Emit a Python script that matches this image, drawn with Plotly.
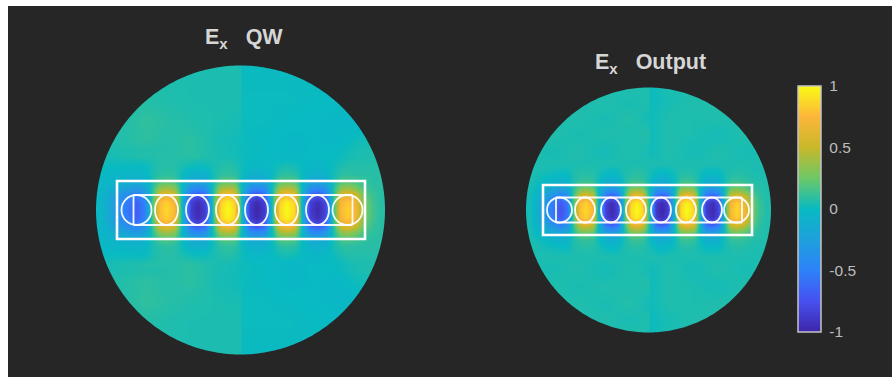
import numpy as np
import plotly.graph_objects as go

W, H = 892, 377

# ---------- field values (offsets from each disk centre, image pixels) ----------
qw_core_x = [-140,-128,-118,-104,-96,-89,-81,-74,-66,-58,-50,-43,-35,-28,-20,-13,-6,1,9,16,24,31,39,46,54,61,69,77,85,92,100,107,115,124,132,140]
qw_core_y = [0, 8, 15, 22, 29, 36, 44, 54]
qw_core_z = [
 [-.03,-.25,-.48,-.68,-.5,.12,.78,.88,.75,-.1,-.86,-.98,-.85,.05,.88,1,.88,-.02,-.88,-1,-.88,0,.88,1,.88,-.02,-.86,-.98,-.82,.05,.76,.86,.72,.28,.15,.08],
 [-.03,-.24,-.46,-.66,-.48,.11,.75,.85,.72,-.09,-.83,-.95,-.82,.05,.85,.97,.85,-.02,-.85,-.97,-.85,0,.85,.97,.85,-.02,-.83,-.95,-.79,.05,.73,.83,.69,.27,.14,.08],
 [-.03,-.2,-.37,-.52,-.38,.09,.58,.68,.56,-.08,-.65,-.76,-.64,.04,.66,.78,.66,-.01,-.66,-.78,-.66,0,.66,.78,.66,-.01,-.65,-.76,-.6,.04,.57,.66,.54,.22,.12,.08],
 [-.03,-.12,-.21,-.3,-.22,.06,.34,.4,.33,-.05,-.38,-.44,-.37,.03,.39,.45,.39,-.01,-.39,-.45,-.39,0,.39,.45,.39,-.01,-.38,-.44,-.35,.03,.33,.39,.3,.14,.1,.08],
 [-.03,-.06,-.09,-.13,-.09,.04,.16,.18,.15,-.01,-.17,-.2,-.17,.02,.18,.2,.18,0,-.18,-.2,-.18,0,.18,.2,.18,0,-.17,-.2,-.16,.02,.16,.18,.15,.1,.08,.08],
 [-.02,-.03,-.04,-.05,-.03,.04,.08,.09,.08,.01,-.07,-.09,-.07,.03,.09,.1,.09,.02,-.07,-.09,-.07,0,.08,.09,.08,.01,-.07,-.09,-.06,.03,.08,.09,.08,.08,.08,.08],
 [.01,0,0,-.01,0,.04,.07,.08,.07,.04,.02,0,.02,.04,.06,.08,.06,.02,-.02,-.04,-.02,0,.03,.05,.03,0,-.03,-.05,-.02,.01,.05,.07,.07,.07,.07,.07],
 [.04,.045,.05,.06,.065,.067,.07,.07,.075,.08,.085,.075,.06,.05,.04,.035,.03,.015,.01,.005,0,-.01,-.02,-.03,-.025,-.02,-.01,-.005,0,0,.01,.03,.045,.05,.055,.06],
]
qw_bg_x = [-146,-115,-95,-75,-50,-25,-1,1,25,50,75,95,115,146]
qw_bg_y = [0, 50, 70, 90, 110, 146]
qw_bg_z = [
 [.03,.03,.03,.03,.03,.03,.03,.02,.02,.02,.04,.06,.08,.08],
 [.03,.03,.03,.06,.08,.05,.03,.02,0,-.03,0,.03,.07,.08],
 [.05,.07,.09,.07,.09,.04,.02,.01,0,-.03,-.01,-.03,.02,.05],
 [.05,.07,.1,.08,.06,.05,.04,.01,.01,0,-.01,-.03,-.03,0],
 [.05,.06,.07,.06,.05,.05,.05,.01,.01,.01,0,-.01,-.01,0],
 [.05,.05,.05,.05,.05,.05,.05,.005,.005,.005,.005,.005,.005,.005],
]

out_core_x = [-118,-108,-100,-88,-81,-76,-69,-63,-56,-50,-43,-37,-31,-25,-18,-12,-6,1,7,13,19,26,32,38,45,51,57,64,70,76,82,88,96,104,110,118]
out_core_y = [0, 7, 13, 19, 25, 31, 38, 46]
out_core_z = [
 [.03,-.2,-.45,-.74,-.56,.13,.78,.88,.75,-.1,-.86,-.98,-.85,.05,.88,1,.88,-.02,-.88,-1,-.88,0,.88,1,.88,-.02,-.86,-.98,-.82,.05,.76,.88,.72,.28,.13,.06],
 [.03,-.18,-.43,-.71,-.54,.12,.75,.85,.72,-.09,-.83,-.95,-.82,.05,.85,.97,.85,-.02,-.85,-.97,-.85,0,.85,.97,.85,-.02,-.83,-.95,-.79,.05,.73,.85,.69,.27,.12,.06],
 [.03,-.14,-.34,-.56,-.42,.1,.58,.68,.56,-.08,-.65,-.76,-.64,.04,.66,.78,.66,-.01,-.66,-.78,-.66,0,.66,.78,.66,-.01,-.65,-.76,-.6,.04,.57,.68,.54,.22,.1,.06],
 [.04,-.08,-.2,-.33,-.25,.07,.34,.4,.33,-.05,-.38,-.44,-.37,.03,.39,.45,.39,-.01,-.39,-.45,-.39,0,.39,.45,.39,-.01,-.38,-.44,-.35,.03,.33,.4,.3,.14,.08,.06],
 [.04,-.02,-.08,-.15,-.11,.05,.17,.19,.16,0,-.17,-.2,-.17,.03,.18,.21,.18,0,-.18,-.21,-.18,0,.18,.21,.18,0,-.17,-.2,-.16,.03,.16,.19,.15,.09,.07,.06],
 [.05,.02,-.02,-.06,-.04,.05,.09,.1,.09,.02,-.07,-.09,-.07,.04,.1,.11,.1,.02,-.08,-.1,-.08,.01,.1,.11,.09,.02,-.07,-.09,-.07,.04,.09,.1,.09,.06,.06,.06],
 [.05,.04,.03,.01,.01,.05,.07,.07,.07,.04,.01,-.01,.01,.05,.07,.08,.07,.04,0,-.02,0,.03,.06,.07,.06,.03,0,-.01,0,.04,.06,.07,.06,.05,.05,.05],
 [.05,.05,.05,.05,.05,.05,.05,.05,.05,.05,.05,.05,.05,.05,.05,.05,.05,.05,.05,.05,.05,.05,.05,.05,.05,.05,.05,.05,.05,.05,.05,.05,.05,.05,.05,.05],
]
out_bg_x = [-124,-95,-70,-45,-20,-1,1,20,45,70,95,124]
out_bg_y = [0, 44, 60, 76, 92, 108, 124]
out_bg_z = [
 [.05,.05,.05,.05,.05,.05,.05,.05,.05,.05,.05,.05],
 [.05,.05,.05,.05,.05,.05,.05,.05,.05,.05,.05,.05],
 [.05,.04,.06,.03,.06,.04,.02,.06,.03,.06,.04,.05],
 [.05,.06,.04,.06,.05,.07,.02,.06,.05,.03,.06,.05],
 [.05,.05,.06,.04,.07,.03,.02,.06,.05,.06,.05,.05],
 [.05,.05,.06,.06,.04,.06,.01,.04,.06,.06,.05,.05],
 [.05,.05,.05,.05,.06,.05,.01,.05,.05,.05,.05,.05],
]

# ---------- geometry of the overlaid device outlines (offsets from disk centre) ----------
qw_geom = dict(cx=240.5, cy=210, r=144.5, rect=(-123.5, 124.5, 29), stad_half=15, stad_x=(-107, 112),
               caps=(-104, 107), cap_r=15, ell=[-74,-43,-13,16,46,77], ell_w=11.5)
out_geom = dict(cx=648.5, cy=210, r=122.5, rect=(-105.5, 103.5, 25), stad_half=12.5, stad_x=(-92.5, 93.5),
                caps=(-89, 88), cap_r=12.5, ell=[-63.5,-37.5,-12.5,12.5,37.5,63.5], ell_w=10)

cb_ticks = [-1, -0.5, 0, 0.5, 1]
cb_text = ["-1", "-0.5", "0", "0.5", "1"]
colors = [[0, "#3e26a8"], [.125, "#4750f0"], [.25, "#2e82fa"], [.375, "#1ea0dc"], [.5, "#08bac2"],
          [.625, "#6cc867"], [.75, "#c8b82a"], [.875, "#fdb63a"], [1, "#f9fb15"]]
DARK = "#262626"


def mirror(ys, zs):
    y = [-v for v in ys[:0:-1]] + list(ys)
    z = [list(r) for r in zs[:0:-1]] + [list(r) for r in zs]
    return y, z


fig = go.Figure()
shapes = [dict(type="rect", xref="paper", yref="paper", x0=8/W, x1=1, y0=0, y1=1-6/H,
               fillcolor=DARK, line_width=0, layer="below")]
theta = np.linspace(0, 2*np.pi, 361)[:-1]

for i, (g, bg, core) in enumerate([
    (qw_geom, (qw_bg_x, qw_bg_y, qw_bg_z), (qw_core_x, qw_core_y, qw_core_z)),
    (out_geom, (out_bg_x, out_bg_y, out_bg_z), (out_core_x, out_core_y, out_core_z)),
]):
    sfx = "" if i == 0 else "2"
    xa, ya = "x" + sfx, "y" + sfx
    for (xs, ys, zs) in (bg, core):
        y, z = mirror(ys, zs)
        fig.add_trace(go.Heatmap(x=xs, y=y, z=z, coloraxis="coloraxis", zsmooth="best",
                                 xaxis=xa, yaxis=ya, hoverinfo="skip"))
    half = g["r"] + 5
    fig.layout["xaxis" + sfx] = dict(domain=[(g["cx"]-half)/W, (g["cx"]+half)/W], range=[-half, half], visible=False)
    fig.layout["yaxis" + sfx] = dict(domain=[1-(g["cy"]+half)/H, 1-(g["cy"]-half)/H], range=[-half, half], visible=False)

    # dark ring in page coordinates, a little larger than the axes, that trims the field to a disk
    def px(dx, dy):
        return f"{(g['cx']+dx)/W:.6f},{1-(g['cy']+dy)/H:.6f}"
    ring = "".join(("M" if k == 0 else "L") + px(g["r"]*np.cos(t), g["r"]*np.sin(t)) for k, t in enumerate(theta)) + "Z"
    big = half + 2
    box = "M" + px(-big, -big) + "L" + px(big, -big) + "L" + px(big, big) + "L" + px(-big, big) + "Z"
    shapes.append(dict(type="path", path=box + ring, xref="paper", yref="paper", fillcolor=DARK,
                       line_width=0, fillrule="evenodd", layer="above"))

    wl = dict(color="rgba(255,255,255,0.92)", width=1.8)
    x0, x1, hh = g["rect"]
    shapes.append(dict(type="rect", xref=xa, yref=ya, x0=x0, x1=x1, y0=-hh, y1=hh, line=dict(color="white", width=2.6)))
    sx0, sx1 = g["stad_x"]
    sh = g["stad_half"]
    for yv in (-sh, sh):
        shapes.append(dict(type="line", xref=xa, yref=ya, x0=sx0, x1=sx1, y0=yv, y1=yv, line=wl))
    for xv in (sx0, sx1):
        shapes.append(dict(type="line", xref=xa, yref=ya, x0=xv, x1=xv, y0=-sh, y1=sh, line=wl))
    for c in g["caps"]:
        shapes.append(dict(type="circle", xref=xa, yref=ya, x0=c-g["cap_r"], x1=c+g["cap_r"], y0=-sh, y1=sh, line=wl))
    for c in g["ell"]:
        shapes.append(dict(type="circle", xref=xa, yref=ya, x0=c-g["ell_w"], x1=c+g["ell_w"], y0=-sh, y1=sh, line=wl))

TITLE_FONT = dict(family="Liberation Sans", size=21.5, color="#d6d6d6", weight="bold")
annotations = [
    dict(text="E<sub>x</sub>\u00a0\u00a0\u00a0QW", x=203/W, y=1-39/H, xref="paper", yref="paper", xanchor="left",
         yanchor="middle", showarrow=False, font=TITLE_FONT),
    dict(text="E<sub>x</sub>\u00a0\u00a0\u00a0Output", x=593/W, y=1-64/H, xref="paper", yref="paper", xanchor="left",
         yanchor="middle", showarrow=False, font=TITLE_FONT),
]

fig.update_layout(
    width=W, height=H, margin=dict(l=0, r=0, t=0, b=0), autosize=False,
    paper_bgcolor="white", plot_bgcolor="rgba(0,0,0,0)", shapes=shapes, annotations=annotations,
    coloraxis=dict(
        cmin=-1, cmax=1, colorscale=colors,
        colorbar=dict(thicknessmode="pixels", thickness=23, lenmode="pixels", len=246,
                      x=798/W, xanchor="left", xpad=0, y=1-209/H, yanchor="middle", ypad=0,
                      tickmode="array", tickvals=cb_ticks, ticktext=cb_text, ticks="outside", ticklen=5,
                      tickcolor=DARK, outlinecolor="#c4c4c4", outlinewidth=1.5,
                      tickfont=dict(family="Liberation Sans", size=15.5, color="#bdbdbd")),
    ),
)

fig.write_html("out.html", config=dict(displayModeBar=False),
               post_script="document.body.style.margin='0';document.body.style.overflow='hidden';")
